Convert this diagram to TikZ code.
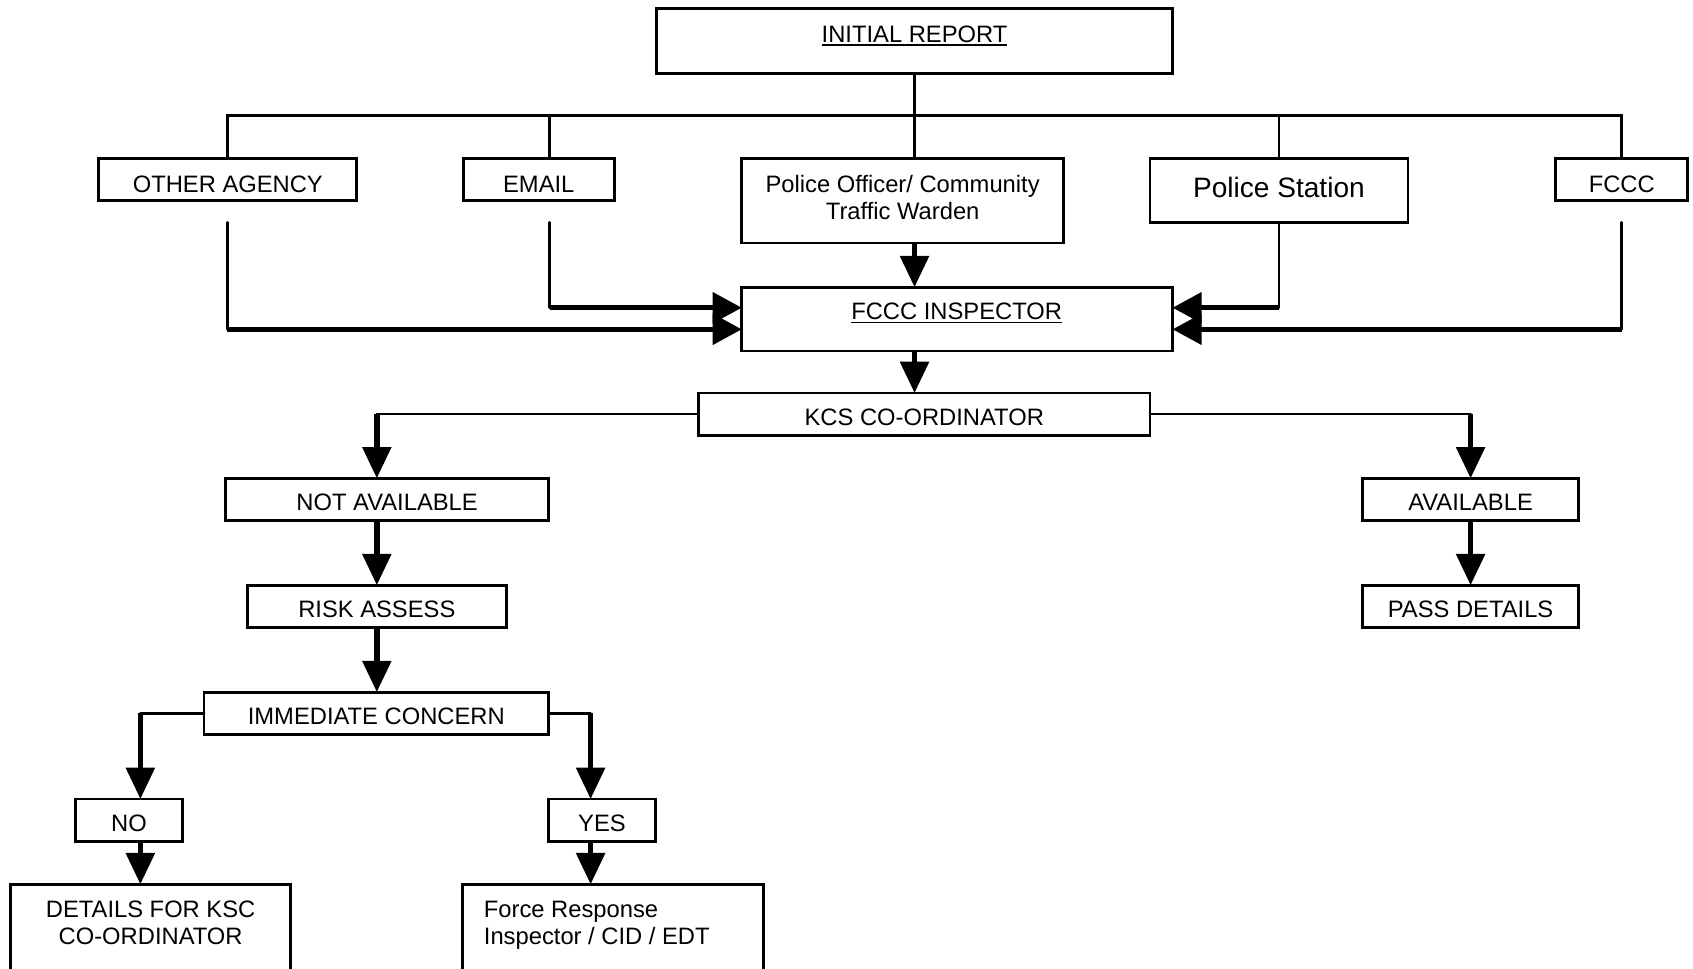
\documentclass[tikz,border=0pt]{standalone}
\usepackage{fontspec}
\setmainfont{Liberation Sans}
\usetikzlibrary{arrows.meta,calc}
\newcommand\ulin[1]{\setbox0\hbox{#1}\rlap{\rule[-3.5pt]{\wd0}{1.7pt}}\box0}
\tikzset{
  box/.style={draw, line width=2.6pt, inner sep=0pt, outer sep=0pt},
  txt/.style={inner sep=0pt, font=\fontsize{22pt}{25pt}\selectfont},
  ln/.style={line width=2.6pt, line cap=round},
  shaft/.style={line width=5pt, -{Triangle[length=29pt,width=26pt]}},
  hshaft/.style={line width=4.5pt, -{Triangle[length=27pt,width=28pt]}}
}
\begin{document}
\begin{tikzpicture}[x=1pt,y=-1pt]
\useasboundingbox (0,0) rectangle (1568,897);
\fill[white] (0,0) rectangle (1568,897);
\clip (0,0) rectangle (1568,897);

% boxes
\node[box,minimum width=478pt,minimum height=60pt] (ir) at (847,38) {};
\node[box,minimum width=239pt,minimum height=39pt] (oa) at (210.5,166.5) {};
\node[box,minimum width=140pt,minimum height=39pt] (em) at (499,166.5) {};
\node[box,minimum width=298pt,minimum height=78pt] (po) at (836,186) {};
\node[box,minimum width=239pt,minimum height=59pt] (ps) at (1184.5,176.5) {};
\node[box,minimum width=122pt,minimum height=39pt] (fc) at (1502,166.5) {};
\node[box,minimum width=399pt,minimum height=59pt] (insp) at (886.5,295.5) {};
\node[box,minimum width=418pt,minimum height=39pt] (kcs) at (856,383.5) {};
\node[box,minimum width=299pt,minimum height=39pt] (na) at (358.5,462.5) {};
\node[box,minimum width=240pt,minimum height=39pt] (ra) at (349,561.5) {};
\node[box,minimum width=319pt,minimum height=39pt] (ic) at (348.5,660.5) {};
\node[box,minimum width=99pt,minimum height=39pt] (no) at (119.5,759.5) {};
\node[box,minimum width=99pt,minimum height=39pt] (yes) at (557.5,759.5) {};
\node[box,minimum width=259pt,minimum height=116pt] (det) at (139.5,877) {};
\node[box,minimum width=279pt,minimum height=116pt] (frc) at (567.5,877) {};
\node[box,minimum width=200pt,minimum height=39pt] (av) at (1362,462.5) {};
\node[box,minimum width=200pt,minimum height=39pt] (pd) at (1362,561.5) {};

% texts
\node[txt,anchor=base] (irt) at (847,39) {\ulin{INITIAL REPORT}};
\node[txt,anchor=base] (oat) at (211,178) {OTHER AGENCY};
\node[txt,anchor=base] (emt) at (499,178) {EMAIL};
\node[txt,align=center] (pot) at (836,182.5) {Police Officer/ Community\\Traffic Warden};
\node[txt,anchor=base,font=\fontsize{26pt}{29pt}\selectfont] (pst) at (1184.5,183) {Police Station};
\node[txt,anchor=base] (fct) at (1502,178) {FCCC};
\node[txt,anchor=base] (inspt) at (886,296) {\ulin{FCCC INSPECTOR}};
\node[txt,anchor=base] (kcst) at (856,394) {KCS CO-ORDINATOR};
\node[txt,anchor=base] (nat) at (358.5,473) {NOT AVAILABLE};
\node[txt,anchor=base] (rat) at (349,572) {RISK ASSESS};
\node[txt,anchor=base] (ict) at (348.5,671) {IMMEDIATE CONCERN};
\node[txt,anchor=base] (not) at (119.5,770) {NO};
\node[txt,anchor=base] (yest) at (557.5,770) {YES};
\node[txt,align=center] (dett) at (139.5,854.6) {DETAILS FOR KSC\\CO-ORDINATOR};
\node[txt,align=left,anchor=west] (frct) at (448,857) {Force Response\\Inspector / CID / EDT};
\node[txt,anchor=base] (avt) at (1362,473) {AVAILABLE};
\node[txt,anchor=base] (pdt) at (1362,572) {PASS DETAILS};

% bus from initial report
\coordinate (bus) at (847,107);
\coordinate (emx) at ([xshift=10pt]em.north);
\coordinate (pox) at ([xshift=11pt]po.north);
\draw[ln] (ir.south) -- (ir.south |- bus);
\draw[ln] (oa.north) -- (oa.north |- bus) -- (fc.north |- bus) -- (fc.north);
\draw[ln] (emx) -- (emx |- bus);
\draw[ln] (pox) -- (pox |- bus);
\draw[ln] (ps.north) -- (ps.north |- bus);

% inputs to FCCC inspector
\coordinate (iL1) at ([yshift=10.5pt]insp.west);
\coordinate (iL2) at ([yshift=-9.5pt]insp.west);
\coordinate (iR1) at ([yshift=10.5pt]insp.east);
\coordinate (iR2) at ([yshift=-9.5pt]insp.east);
\coordinate (oas) at ([yshift=-20pt]oa.south);
\coordinate (ems) at ([xshift=10pt,yshift=-20pt]em.south);
\coordinate (fcs) at ([yshift=-20pt]fc.south);
\draw[ln] (oas) -- (oas |- iL2);
\draw[hshaft] (oas |- iL2) -- (iL2);
\draw[ln] (ems) -- (ems |- iL1);
\draw[hshaft] (ems |- iL1) -- (iL1);
\draw[ln] (ps.south) -- (ps.south |- iR1);
\draw[hshaft] (ps.south |- iR1) -- (iR1);
\draw[ln] (fcs) -- (fcs |- iR2);
\draw[hshaft] (fcs |- iR2) -- (iR2);

% vertical flow
\coordinate (pob) at ([xshift=11pt]po.south);
\draw[shaft] (pob) -- (pob |- insp.north);
\coordinate (inb) at ([xshift=-39.5pt]insp.south);
\draw[shaft] (inb) -- (inb |- kcs.north);
\coordinate (natop) at ([xshift=-9.5pt]na.north);
\draw[ln] (kcs.west) -- (kcs.west -| natop);
\draw[shaft] (kcs.west -| natop) -- (natop);
\draw[ln] (kcs.east) -- (kcs.east -| av.north);
\draw[shaft] (kcs.east -| av.north) -- (av.north);
\draw[shaft] (ra.north |- na.south) -- (ra.north);
\draw[shaft] (ra.south) -- (ra.south |- ic.north);
\coordinate (notop) at ([xshift=10.5pt]no.north);
\draw[ln] (ic.west) -- (ic.west -| notop);
\draw[shaft] (ic.west -| notop) -- (notop);
\coordinate (yetop) at ([xshift=-10.5pt]yes.north);
\draw[ln] (ic.east) -- (ic.east -| yetop);
\draw[shaft] (ic.east -| yetop) -- (yetop);
\coordinate (nob) at ([xshift=10.5pt]no.south);
\draw[shaft] (nob) -- (nob |- det.north);
\coordinate (yeb) at ([xshift=-10.5pt]yes.south);
\draw[shaft] (yeb) -- (yeb |- frc.north);
\draw[shaft] (av.south) -- (pd.north);
\end{tikzpicture}
\end{document}
